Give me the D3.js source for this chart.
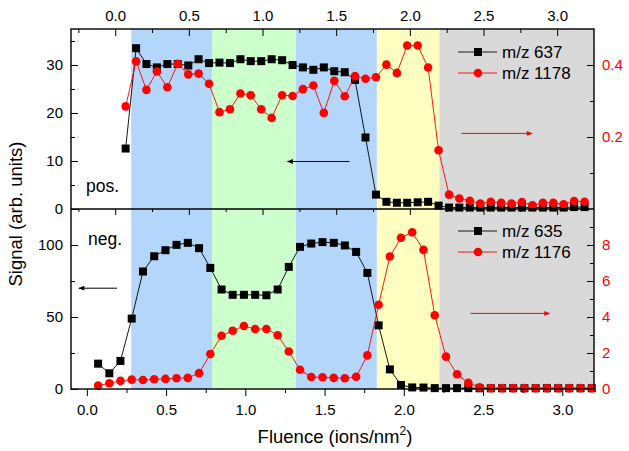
<!DOCTYPE html>
<html>
<head>
<meta charset="utf-8">
<script src="https://cdn.jsdelivr.net/npm/d3@7"></script>
<style>
  body { margin: 0; background: #fff; }
  svg { display: block; font-family: "Liberation Sans", Arial, sans-serif; }
</style>
</head>
<body>
<div id="chart"></div>
<script>
// fluence values (ions/nm^2), shared by both panels
const fluence = [0.071, 0.142, 0.212, 0.283, 0.354, 0.425, 0.496, 0.566, 0.637, 0.708,
  0.779, 0.850, 0.920, 0.991, 1.062, 1.133, 1.204, 1.274, 1.345, 1.416,
  1.487, 1.558, 1.628, 1.699, 1.770, 1.841, 1.912, 1.982, 2.053, 2.124,
  2.195, 2.266, 2.336, 2.407, 2.478, 2.549, 2.620, 2.690, 2.761, 2.832,
  2.903, 2.974, 3.044, 3.115, 3.186];

// positive mode
const pos637 = [12.6, 33.5, 30.2, 29.5, 30.2, 30.2, 29.9, 31.2, 30.4, 30.5,
  30.4, 31.2, 30.8, 30.8, 31.2, 31.0, 30.0, 29.5, 29.0, 29.5,
  28.7, 28.5, 26.9, 14.9, 3.0, 1.5, 1.3, 1.3, 1.4, 1.5,
  0.7, 0.3, 0.3, 0.3, 0.3, 0.3, 0.3, 0.3, 0.3, 0.3,
  0.3, 0.3, 0.3, 0.4, 0.4];
const pos1178 = [0.285, 0.41, 0.331, 0.382, 0.338, 0.403, 0.374, 0.376, 0.348, 0.269,
  0.277, 0.321, 0.316, 0.277, 0.253, 0.316, 0.314, 0.333, 0.343, 0.267,
  0.356, 0.313, 0.369, 0.362, 0.366, 0.401, 0.378, 0.454, 0.454, 0.393,
  0.163, 0.040, 0.029, 0.023, 0.015, 0.020, 0.017, 0.015, 0.019, 0.010,
  0.017, 0.017, 0.013, 0.022, 0.020];

// negative mode
const neg635 = [17.6, 10.9, 19.5, 48.9, 81.6, 92.2, 96.4, 100.1, 101.5, 97.8,
  84.1, 69.1, 65.4, 65.4, 65.4, 65.1, 69.1, 84.8, 98.7, 101,
  102, 101.5, 99.7, 95.2, 80.6, 44.2, 13.6, 2.8, 1.1, 1.0,
  0.6, 0.6, 0.6, 0.6, 0.5, 0.5, 0.5, 0.5, 0.5, 0.5,
  0.5, 0.5, 0.5, 0.5, 0.5];
const neg1176 = [0.19, 0.32, 0.45, 0.52, 0.50, 0.54, 0.56, 0.60, 0.62, 0.88,
  1.94, 2.96, 3.24, 3.50, 3.33, 3.33, 2.99, 2.08, 1.07, 0.67,
  0.65, 0.62, 0.60, 0.68, 1.87, 4.68, 7.36, 8.40, 8.71, 7.73,
  4.10, 1.80, 0.82, 0.34, 0.09, 0.05, 0.05, 0.05, 0.05, 0.05,
  0.05, 0.05, 0.05, 0.05, 0.05];

// shaded regions (bottom fluence axis units)
const bandEdges = [0.28, 0.79, 1.32, 1.83, 2.225, 3.2];

const xTicks = [0, 0.5, 1, 1.5, 2, 2.5, 3];
const xMinor = [-0.25, 0.25, 0.75, 1.25, 1.75, 2.25, 2.75];

const W = 629, H = 451;
const L = 71, R = 594, T = 29, M = 209, B = 389;
const RED = "#ff0000";
const bandFill = ["#b3d6fa", "#ccffcc", "#b3d6fa", "#ffffc2", "#d9d9d9"];

const svg = d3.select("#chart").append("svg")
  .attr("width", W).attr("height", H);

const xTop = d3.scaleLinear().domain([-0.3, 3.25]).range([L, R]);
const xBot = d3.scaleLinear().domain([-0.1, 3.2]).range([L, R]);
const yTopL = d3.scaleLinear().domain([0, 37.5]).range([M, T]);
const yTopR = d3.scaleLinear().domain([0, 0.5]).range([M, T]);
const yBotL = d3.scaleLinear().domain([0, 125]).range([B, M]);
const yBotR = d3.scaleLinear().domain([0, 10]).range([B, M]);

// background bands
svg.append("g").selectAll("rect")
  .data(d3.range(bandEdges.length - 1))
  .enter().append("rect")
  .attr("x", i => xBot(bandEdges[i]))
  .attr("y", T)
  .attr("width", i => xBot(bandEdges[i + 1]) - xBot(bandEdges[i]))
  .attr("height", B - T)
  .attr("fill", i => bandFill[i]);

function series(x, y, vals, color, marker) {
  const g = svg.append("g");
  g.append("path")
    .datum(vals)
    .attr("fill", "none")
    .attr("stroke", color)
    .attr("stroke-width", 0.9)
    .attr("d", d3.line().x((d, i) => x(fluence[i])).y(d => y(d)));
  if (marker === "square") {
    g.selectAll("rect").data(vals).enter().append("rect")
      .attr("x", (d, i) => x(fluence[i]) - 4)
      .attr("y", d => y(d) - 4)
      .attr("width", 8).attr("height", 8)
      .attr("fill", color);
  } else {
    g.selectAll("circle").data(vals).enter().append("circle")
      .attr("cx", (d, i) => x(fluence[i]))
      .attr("cy", d => y(d))
      .attr("r", 4.3)
      .attr("fill", color);
  }
}

series(xTop, yTopL, pos637, "#000", "square");
series(xTop, yTopR, pos1178, RED, "circle");
series(xBot, yBotL, neg635, "#000", "square");
series(xBot, yBotR, neg1176, RED, "circle");

// axes helper
function axis(gen, tx, ty, vals, size, labels, color) {
  const g = svg.append("g")
    .attr("transform", `translate(${tx},${ty})`)
    .call(gen.tickValues(vals).tickSize(size).tickPadding(labels ? 8 : 0)
      .tickFormat(labels ? labels : () => ""));
  g.select(".domain").remove();
  g.selectAll("line").attr("stroke", "#000").attr("stroke-width", 1);
  g.selectAll("text").attr("font-size", 15).attr("font-family", "Liberation Sans, Arial, sans-serif")
    .attr("fill", color || "#000");
  return g;
}
const fmt1 = d3.format(".1f");

// top panel: top axis (ticks inward) with labels
axis(d3.axisTop(xTop), 0, T, xTicks, -7, fmt1);
axis(d3.axisTop(xTop), 0, T, xMinor, -4);
// top panel: bottom edge ticks pointing down
axis(d3.axisBottom(xTop), 0, M, xTicks, 6);
axis(d3.axisBottom(xTop), 0, M, xMinor, 3);
// bottom panel: bottom axis
axis(d3.axisBottom(xBot), 0, B, xTicks, 7, fmt1);
axis(d3.axisBottom(xBot), 0, B, xMinor.filter(v => v > -0.1), 4);

// left axes
axis(d3.axisLeft(yTopL), L, 0, [0, 10, 20, 30], -7, d3.format("d"));
axis(d3.axisLeft(yTopL), L, 0, [5, 15, 25, 35], -4);
axis(d3.axisLeft(yBotL), L, 0, [0, 50, 100], -7, d3.format("d"));
axis(d3.axisLeft(yBotL), L, 0, [25, 75], -4);

// right axes
axis(d3.axisRight(yTopR), R, 0, [0.2, 0.4], -7, fmt1, RED);
axis(d3.axisRight(yTopR), R, 0, [0.1, 0.3], -4);
axis(d3.axisRight(yBotR), R, 0, [0, 2, 4, 6, 8], -7, d3.format("d"), RED);
axis(d3.axisRight(yBotR), R, 0, [1, 3, 5, 7, 9], -4);

// frames
svg.append("rect").attr("x", L).attr("y", T).attr("width", R - L).attr("height", B - T)
  .attr("fill", "none").attr("stroke", "#000").attr("stroke-width", 1.4);
svg.append("line").attr("x1", L).attr("x2", R).attr("y1", M).attr("y2", M)
  .attr("stroke", "#000").attr("stroke-width", 1.4);

// arrows
const defs = svg.append("defs");
[["headK", "#000"], ["headR", RED]].forEach(([id, c]) => {
  defs.append("marker").attr("id", id)
    .attr("viewBox", "0 0 10 10").attr("refX", 9).attr("refY", 5)
    .attr("markerWidth", 8).attr("markerHeight", 6).attr("orient", "auto")
    .attr("markerUnits", "userSpaceOnUse")
    .append("path").attr("d", "M0,1L10,5L0,9Z").attr("fill", c);
});
function arrow(x1, y1, x2, y2, color, head) {
  svg.append("line").attr("x1", x1).attr("y1", y1).attr("x2", x2).attr("y2", y2)
    .attr("stroke", color).attr("stroke-width", 1).attr("marker-end", `url(#${head})`);
}
arrow(xTop(1.59), yTopL(9.9), xTop(1.17), yTopL(9.9), "#000", "headK");
arrow(xTop(2.35), yTopR(0.21), xTop(2.83), yTopR(0.21), RED, "headR");
arrow(xBot(0.19), yBotL(70), xBot(-0.05), yBotL(70), "#000", "headK");
arrow(xBot(2.42), yBotR(4.2), xBot(2.92), yBotR(4.2), RED, "headR");

// panel labels
svg.append("text").attr("x", 86).attr("y", 192).attr("font-size", 17.5).text("pos.");
svg.append("text").attr("x", 88).attr("y", 245).attr("font-size", 17.5).text("neg.");

// legends
function legend(y0, names) {
  names.forEach((n, k) => {
    const y = y0 + k * 21;
    const c = k === 0 ? "#000" : RED;
    svg.append("line").attr("x1", 458).attr("x2", 497).attr("y1", y).attr("y2", y)
      .attr("stroke", c).attr("stroke-width", 0.9);
    if (k === 0) {
      svg.append("rect").attr("x", 474).attr("y", y - 4).attr("width", 8).attr("height", 8).attr("fill", c);
    } else {
      svg.append("circle").attr("cx", 478).attr("cy", y).attr("r", 4.3).attr("fill", c);
    }
    svg.append("text").attr("x", 502).attr("y", y + 6).attr("font-size", 17).text(n);
  });
}
legend(52, ["m/z 637", "m/z 1178"]);
legend(231, ["m/z 635", "m/z 1176"]);

// axis titles
svg.append("text")
  .attr("transform", `translate(22,214) rotate(-90)`)
  .attr("text-anchor", "middle").attr("font-size", 18.5)
  .text("Signal (arb. units)");
const xt = svg.append("text").attr("x", 335).attr("y", 443)
  .attr("text-anchor", "middle").attr("font-size", 18.5);
xt.append("tspan").text("Fluence (ions/nm");
xt.append("tspan").attr("font-size", 12).attr("dy", -8).text("2");
xt.append("tspan").attr("dy", 8).text(")");
</script>
</body>
</html>
